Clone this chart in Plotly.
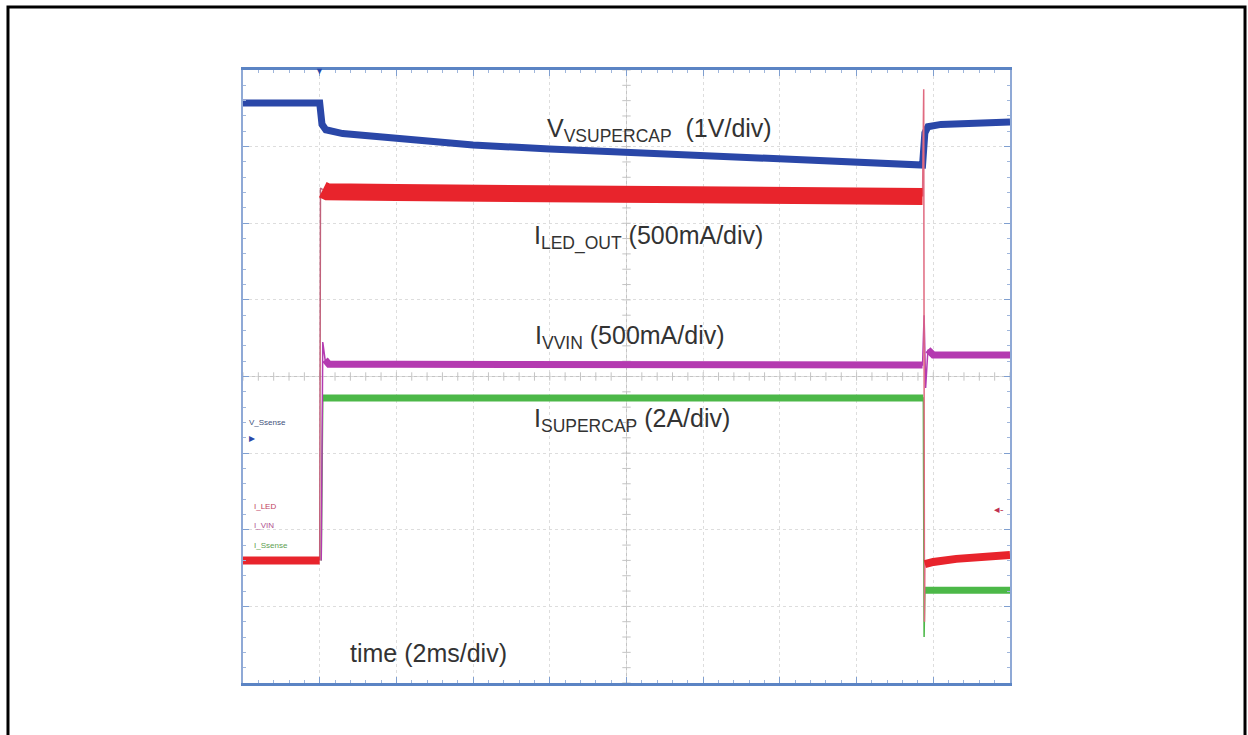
import numpy as np
import plotly.graph_objects as go

# ---- data read from the scope capture (x: time in divisions, y: screen divisions) ----
# V_VSUPERCAP (blue)
blue_t = [0.0, 1.0, 1.03, 1.08, 1.3, 2.0, 3.0, 4.0, 5.0, 6.0, 7.0, 8.0, 8.86, 8.89, 8.93, 9.1, 9.5, 10.0]
blue_v = [7.57, 7.57, 7.29, 7.22, 7.17, 7.10, 7.02, 6.97, 6.93, 6.89, 6.85, 6.81, 6.76, 7.18, 7.26, 7.29, 7.31, 7.32]

# I_LED_OUT (red) – levels before / during / after the pulse, plus thin edges
red_pre_t = [0.0, 1.0]
red_pre_v = [1.60, 1.60]
red_on_t = [1.04, 1.1, 2.0, 3.0, 4.0, 5.0, 6.0, 7.0, 8.0, 8.86]
red_on_v = [6.44, 6.41, 6.40, 6.40, 6.40, 6.39, 6.38, 6.37, 6.36, 6.35]
red_post_t = [8.89, 9.0, 9.3, 9.6, 10.0]
red_post_v = [1.55, 1.58, 1.62, 1.65, 1.67]
red_edge1_t = [1.0, 1.01, 1.04]
red_edge1_v = [1.60, 6.46, 6.44]
red_edge2_t = [8.86, 8.875, 8.885, 8.89]
red_edge2_v = [6.35, 7.75, 0.80, 1.55]

# I_VVIN (magenta)
mag_t = [1.02, 1.04, 1.07, 1.12, 2.0, 4.0, 6.0, 8.0, 8.86, 8.88, 8.90, 8.93, 9.0, 9.5, 10.0]
mag_v = [1.60, 4.45, 4.22, 4.16, 4.16, 4.16, 4.15, 4.15, 4.15, 4.80, 3.85, 4.35, 4.28, 4.28, 4.28]

# I_SUPERCAP (green)
grn_t = [1.02, 1.04, 2.0, 4.0, 6.0, 8.0, 8.87, 8.88, 8.89, 8.92, 9.5, 10.0]
grn_v = [1.60, 3.72, 3.72, 3.72, 3.72, 3.72, 3.72, 0.60, 1.21, 1.21, 1.21, 1.21]

# text labels (x, y in divisions)
labels = [
    ("V<sub>VSUPERCAP</sub>  (1V/div)", 3.94, 7.22),
    ("I<sub>LED_OUT</sub> (500mA/div)", 3.77, 5.82),
    ("I<sub>VVIN</sub> (500mA/div)", 3.78, 4.52),
    ("I<sub>SUPERCAP</sub> (2A/div)", 3.77, 3.43),
    ("time (2ms/div)", 1.37, 0.39),
]

BLUE = "#2a47a8"
RED = "#e8242c"
MAG = "#b43ab0"
GRN = "#4cb848"

fig = go.Figure()

def add(x, y, color, width, opacity=1.0):
    fig.add_trace(go.Scatter(x=x, y=y, mode="lines", line=dict(color=color, width=width),
                             opacity=opacity, hoverinfo="skip", showlegend=False))

# centre graticule with minor ticks
fig.add_shape(type="line", x0=0, x1=10, y0=4, y1=4, line=dict(color="#c4c4c4", width=1), layer="below")
fig.add_shape(type="line", x0=5, x1=5, y0=0, y1=8, line=dict(color="#c4c4c4", width=1), layer="below")
mt = np.arange(0, 10.01, 0.2)
fig.add_trace(go.Scatter(x=mt, y=[4] * len(mt), mode="markers",
                         marker=dict(symbol="line-ns", size=6, line=dict(color="#c4c4c4", width=1)),
                         hoverinfo="skip", showlegend=False))
mty = np.arange(0, 8.01, 0.2)
fig.add_trace(go.Scatter(x=[5] * len(mty), y=mty, mode="markers",
                         marker=dict(symbol="line-ew", size=6, line=dict(color="#c4c4c4", width=1)),
                         hoverinfo="skip", showlegend=False))

add(grn_t, grn_v, GRN, 1.5)
add(grn_t[1:7], grn_v[1:7], GRN, 7)
add(grn_t[8:], grn_v[8:], GRN, 7)
add(mag_t, mag_v, MAG, 1.5)
add(mag_t[2:9], mag_v[2:9], MAG, 7)
add(mag_t[11:], mag_v[11:], MAG, 7)
add(blue_t, blue_v, BLUE, 7)
add(red_edge1_t, red_edge1_v, "#c0607a", 1.5)
add(red_edge2_t, red_edge2_v, "#e06a80", 1.5)
add(red_pre_t, red_pre_v, RED, 8)
add(red_on_t, red_on_v, RED, 17)
add(red_post_t, red_post_v, RED, 8)

for txt, x, y in labels:
    fig.add_annotation(x=x, y=y, text=txt, showarrow=False, xanchor="left", yanchor="middle",
                       font=dict(family="Liberation Sans, Arial", size=25, color="#333333"))

# small channel labels on the left
small = [("V_Ssense", 0.05, 3.4, "#40507a"), ("I_LED", 0.12, 2.3, "#c04060"),
         ("I_VIN", 0.12, 2.05, "#b05090"), ("I_Ssense", 0.12, 1.8, "#60a050")]
for txt, x, y, c in small:
    fig.add_annotation(x=x, y=y, text=txt, showarrow=False, xanchor="left", yanchor="middle",
                       font=dict(family="Liberation Sans, Arial", size=8, color=c))
fig.add_annotation(x=0.05, y=3.2, text="▸", showarrow=False, xanchor="left",
                   font=dict(size=12, color=BLUE))
fig.add_annotation(x=9.95, y=2.28, text="◂-", showarrow=False, xanchor="right",
                   font=dict(size=11, color="#c03050"))
fig.add_annotation(x=1.0, y=8.0, text="▼", showarrow=False, yanchor="middle",
                   font=dict(size=9, color=BLUE))

# outer page border
fig.add_shape(type="rect", xref="paper", yref="paper", x0=-0.3064, x1=1.3064, y0=-0.13, y1=1.1028,
              line=dict(color="black", width=3))

fig.update_xaxes(range=[0, 10], dtick=1, showgrid=True, gridcolor="#dddddd", griddash="dot",
                 showticklabels=False, zeroline=False, showline=True, linecolor="#5b84c4", linewidth=3,
                 mirror="ticks", ticks="inside", ticklen=6, tickcolor="#7f9fd0",
                 minor=dict(dtick=0.2, ticks="inside", ticklen=3, tickcolor="#9fb6dc"))
fig.update_yaxes(range=[0, 8], dtick=1, showgrid=True, gridcolor="#dddddd", griddash="dot",
                 showticklabels=False, zeroline=False, showline=True, linecolor="#8fa9d6", linewidth=1.5,
                 mirror="ticks", ticks="inside", ticklen=6, tickcolor="#7f9fd0",
                 minor=dict(dtick=0.2, ticks="inside", ticklen=3, tickcolor="#9fb6dc"))

fig.update_layout(width=1248, height=735, margin=dict(l=243, r=238, t=70, b=52),
                  paper_bgcolor="white", plot_bgcolor="white", showlegend=False)

fig.write_html("out.html", config={"displayModeBar": False},
               post_script="document.body.style.margin='0';document.body.style.overflow='hidden';")
